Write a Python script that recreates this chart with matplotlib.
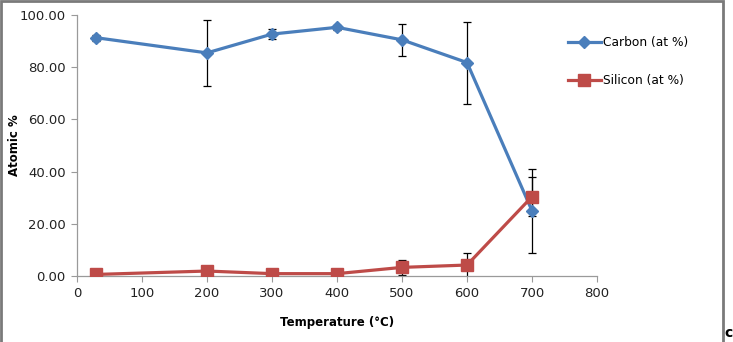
import matplotlib
matplotlib.use("Agg")
import matplotlib.pyplot as plt
from matplotlib.patches import Rectangle

temps = [30, 200, 300, 400, 500, 600, 700]
carbon = [91.3, 85.5, 92.7, 95.3, 90.5, 81.8, 25.0]
carbon_err = [1.2, 12.7, 2.0, 1.0, 6.2, 15.7, 16.0]
silicon = [0.6, 1.9, 0.9, 0.9, 3.3, 4.2, 30.4]
silicon_err = [0.3, 0.6, 0.3, 0.3, 2.8, 4.7, 7.5]

x_ticks = [0, 100, 200, 300, 400, 500, 600, 700, 800]
y_ticks = [0, 20, 40, 60, 80, 100]

blue = '#4a7ebb'
red = '#be4b48'
axis_grey = '#9a9a9a'

fig = plt.figure(figsize=(7.33, 3.42), dpi=100)
ax = fig.add_axes([0.105, 0.193, 0.7095, 0.763])

# error bars first so the lines sit on top
ax.errorbar(temps, carbon, yerr=carbon_err, fmt='none', ecolor='black',
            elinewidth=0.9, capsize=2.9, capthick=0.9, zorder=2)
ax.errorbar(temps, silicon, yerr=silicon_err, fmt='none', ecolor='black',
            elinewidth=0.9, capsize=2.9, capthick=0.9, zorder=2)

ax.plot(temps, carbon, color=blue, lw=2.3, marker='D', ms=6.5,
        mec=blue, mfc=blue, label='Carbon (at %)', zorder=3)
ax.plot(temps, silicon, color=red, lw=2.3, marker='s', ms=8,
        mec=red, mfc=red, label='Silicon (at %)', zorder=4)

ax.set_xlim(0, 800)
ax.set_ylim(0, 100)
ax.set_xticks(x_ticks)
ax.set_yticks(y_ticks)
ax.set_yticklabels([f'{v:.2f}' for v in y_ticks])
ax.tick_params(axis='both', direction='out', length=4, width=0.8,
               color=axis_grey, labelsize=9.5, labelcolor='#222222', pad=4)

for side in ['top', 'right']:
    ax.spines[side].set_visible(False)
for side in ['left', 'bottom']:
    ax.spines[side].set_color(axis_grey)
    ax.spines[side].set_linewidth(0.9)

ax.set_xlabel('Temperature (°C)', fontsize=8.5, fontweight='bold')
ax.xaxis.set_label_coords(0.5, -0.155)
ax.set_ylabel('Atomic %', fontsize=8.5, fontweight='bold')
ax.yaxis.set_label_coords(-0.108, 0.5)

leg = ax.legend(loc='upper left', bbox_to_anchor=(0.944, 0.92), frameon=False,
                fontsize=8.8, handlelength=2.7, handletextpad=0.15,
                labelspacing=2.05, borderaxespad=0, borderpad=0)

# grey frame around the chart area (bottom edge is cropped away)
fig.add_artist(Rectangle((0.002, -0.05), 0.985, 1.047, transform=fig.transFigure,
                         fill=False, edgecolor='#7a7a7a', lw=2))
fig.text(0.999, 0.005, 'c', fontsize=10, fontweight='bold', ha='right', va='bottom')

fig.savefig('out.png', dpi=100)
